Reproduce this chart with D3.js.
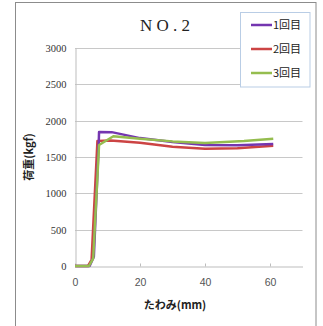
<!DOCTYPE html>
<html><head><meta charset="utf-8">
<script src="https://cdn.jsdelivr.net/npm/d3@7"></script>
<style>body{margin:0;background:#fff}svg{display:block}</style>
</head><body>
<script>
const title = "N O . 2";
const seriesNames = ["1回目", "2回目", "3回目"];
const seriesColors = ["#7436b0", "#cc4444", "#95bd4f"];
const xTicks = [0, 20, 40, 60];
const yTicks = [0, 500, 1000, 1500, 2000, 2500, 3000];
const s1x = [0, 4.5, 5.8, 7.3, 7.4, 11.3, 20, 30, 40, 50, 61];
const s1y = [0, 0, 128, 1688, 1845, 1842, 1760, 1706, 1664, 1660, 1678];
const s2x = [0, 4.0, 5.1, 6.9, 11, 20, 30, 40, 50, 61];
const s2y = [0, 0, 83, 1720, 1728, 1695, 1642, 1614, 1620, 1655];
const s3x = [0, 4.3, 5.6, 7.4, 11.8, 20, 30, 40, 52, 61];
const s3y = [0, 0, 105, 1665, 1785, 1750, 1715, 1692, 1720, 1751];

const W = 323, H = 326;
const svg = d3.select("body").append("svg").attr("width", W).attr("height", H);
svg.append("rect").attr("x", 15.5).attr("y", 2.5).attr("width", 300.5).attr("height", 330)
  .attr("fill", "#fff").attr("stroke", "#8c8c8c").attr("stroke-width", 1);

const x = d3.scaleLinear().domain([0, 70]).range([75, 302.5]);
const y = d3.scaleLinear().domain([0, 3000]).range([266, 48]);

// grid
svg.append("g").selectAll("line").data(yTicks.filter(d => d > 0)).join("line")
  .attr("x1", x(0)).attr("x2", x(70)).attr("y1", d => Math.round(y(d)) + 0.5).attr("y2", d => Math.round(y(d)) + 0.5)
  .attr("stroke", "#c8c8c8").attr("stroke-width", 1);

// y axis
const ya = svg.append("g").attr("transform", `translate(${x(0) + 0.5},0)`)
  .call(d3.axisLeft(y).tickValues(yTicks).tickFormat(d3.format("d")).tickSize(0).tickPadding(9));
ya.select(".domain").attr("stroke", "#bdbdbd");
ya.selectAll("text").attr("font-family", "Liberation Serif, serif").attr("font-size", 10.5).attr("fill", "#333");

// x axis
const xa = svg.append("g").attr("transform", `translate(0,${Math.round(y(0)) + 0.5})`)
  .call(d3.axisBottom(x).tickValues(xTicks).tickFormat(d3.format("d")).tickSizeInner(-3).tickSizeOuter(0).tickPadding(12));
xa.select(".domain").attr("stroke", "#bdbdbd");
xa.selectAll(".tick line").attr("stroke", "#bdbdbd");
xa.selectAll("text").attr("font-family", "Liberation Sans, Arial, sans-serif").attr("font-size", 10.5).attr("fill", "#555");

// lines
const data = [[s1x, s1y], [s2x, s2y], [s3x, s3y]];
const line = d3.line().x(d => x(d[0])).y(d => y(d[1]));
[1, 0, 2].forEach(i => {
  const pts = data[i][0].map((v, k) => [v, data[i][1][k]]);
  svg.append("path").datum(pts).attr("d", line).attr("fill", "none")
    .attr("stroke", seriesColors[i]).attr("stroke-width", 2.5).attr("stroke-linejoin", "round");
});

// title
svg.append("text").attr("x", 165).attr("y", 31).attr("text-anchor", "middle")
  .attr("font-family", "Liberation Serif, serif").attr("font-size", 17).attr("fill", "#222")
  .text(title);

// axis titles
svg.append("text").attr("transform", "translate(33,157) rotate(-90)").attr("text-anchor", "middle")
  .attr("font-family", "Noto Sans CJK JP, sans-serif").attr("font-weight", "bold").attr("font-size", 11).attr("fill", "#222")
  .text("荷重(kgf)");
svg.append("text").attr("x", 175).attr("y", 309).attr("text-anchor", "middle")
  .attr("font-family", "Noto Sans CJK JP, sans-serif").attr("font-weight", "bold").attr("font-size", 11).attr("fill", "#222")
  .text("たわみ(mm)");

// legend
const lg = svg.append("g");
lg.append("rect").attr("x", 240.5).attr("y", 12.5).attr("width", 69.5).attr("height", 74.5)
  .attr("fill", "#fff").attr("stroke", "#b9cde5").attr("stroke-width", 1);
seriesNames.forEach((n, i) => {
  const yy = 25 + i * 24;
  lg.append("line").attr("x1", 251).attr("x2", 272).attr("y1", yy).attr("y2", yy)
    .attr("stroke", seriesColors[i]).attr("stroke-width", 2.5);
  lg.append("text").attr("x", 273).attr("y", yy + 4).attr("font-family", "Noto Sans CJK JP, sans-serif")
    .attr("font-size", 11).attr("fill", "#222").text(n);
});
</script>
</body></html>
